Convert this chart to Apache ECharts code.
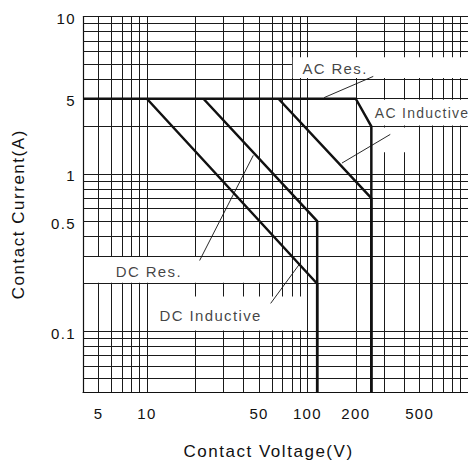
<!DOCTYPE html>
<html>
<head>
<meta charset="utf-8">
<script src="https://cdn.jsdelivr.net/npm/echarts@6/dist/echarts.min.js"></script>
<style>
html,body{margin:0;padding:0;background:#fff;}
#chart{width:468px;height:466px;}
#chart svg text{letter-spacing:0.09em;}
</style>
</head>
<body>
<div id="chart"></div>
<script>
// ---- axis ranges ----
const X_MIN = 4, X_MAX = 1000, Y_MIN = 0.041, Y_MAX = 10;

// ---- grid lines ----
const xGridValues = [5,6,7,8,9,10,20,30,40,50,60,70,80,90,100,200,300,400,500,600,700,800,900];
const yGridValues = [0.05,0.06,0.07,0.08,0.09,0.1,0.2,0.3,0.4,0.5,0.6,0.7,0.8,0.9,1,2,3,4,5,6,7,8,9,10];

// ---- tick labels ----
const xTickValues = [5,10,50,100,200,500];
const xTickLabels = ['5','10','50','100','200','500'];
const yTickValues = [10,3,1,0.5,0.1];
const yTickLabels = ['10','5','1','0.5','0.1'];

// ---- curves (voltage V, current in axis units) ----
const acResVoltage = [4,200,250,250];
const acResCurrent = [3,3,2,Y_MIN];
const acIndVoltage = [66,250,250];
const acIndCurrent = [3,0.7,Y_MIN];
const dcResVoltage = [22.5,115,115];
const dcResCurrent = [3,0.5,Y_MIN];
const dcIndVoltage = [10,115,115];
const dcIndCurrent = [3,0.2,Y_MIN];

// ---- annotations ----
const noteNames = ['AC Res.','AC Inductive','DC Res.','DC Inductive'];
const noteV = [93,263,6.4,12];
const noteA = [4.65,2.43,0.24,0.126];
const leaderFromV = [257,328,21.3,59];
const leaderFromA = [4.16,1.78,0.281,0.15];
const leaderToV = [127,164,46,90];
const leaderToA = [3.05,1.17,1.31,0.27];

// ---- white label backgrounds (axis units) ----
const boxV0 = [81,255,255,4.06,10.2];
const boxV1 = [1000,1000,441,58,98];
const boxA0 = [4.06,2.03,1.37,0.203,0.101];
const boxA1 = [5.5,2.96,1.97,0.296,0.166];

const FONT = '"Liberation Sans", Arial, Helvetica, sans-serif';
const INK = '#111';

const zip = (xs, ys) => xs.map((x, i) => [x, ys[i]]);

function curve(name, xs, ys) {
  return {
    type: 'line', name: name, data: zip(xs, ys), symbol: 'none', z: 3,
    lineStyle: {color: INK, width: 2.5}, silent: true, animation: false
  };
}

const chart = echarts.init(document.getElementById('chart'), null, {renderer: 'svg'});

const series = [
  // grid lines
  {
    type: 'line', data: [], silent: true, z: 1, animation: false,
    markLine: {
      z: 1, zlevel: 0,
      silent: true, symbol: 'none', animation: false,
      lineStyle: {color: '#1a1a1a', width: 1, type: 'solid'},
      label: {show: false},
      emphasis: {disabled: true},
      data: [
        ...xGridValues.map(v => ({xAxis: v})),
        ...yGridValues.map(v => ({yAxis: v}))
      ]
    }
  },
  // white boxes behind annotations
  {
    type: 'custom', z: 2, silent: true, animation: false, clip: false,
    data: boxV0.map((v, i) => [v, boxA0[i], boxV1[i], boxA1[i]]),
    encode: {x: [0, 2], y: [1, 3]},
    renderItem: function (params, api) {
      const p0 = api.coord([api.value(0), api.value(1)]);
      const p1 = api.coord([api.value(2), api.value(3)]);
      return {
        type: 'rect',
        shape: {x: Math.min(p0[0], p1[0]), y: Math.min(p0[1], p1[1]),
                width: Math.abs(p1[0] - p0[0]), height: Math.abs(p1[1] - p0[1])},
        style: {fill: '#ffffff'}
      };
    }
  },
  // x tick labels
  {
    type: 'custom', z: 2, silent: true, animation: false, clip: false,
    data: xTickValues.map(v => [v, Y_MIN]),
    renderItem: function (params, api) {
      const p = api.coord([api.value(0), api.value(1)]);
      return {
        type: 'text', x: p[0], y: p[1] + 14,
        style: {text: xTickLabels[params.dataIndex], fill: INK, fontSize: 15, fontFamily: FONT,
                align: 'center', verticalAlign: 'top'}
      };
    }
  },
  // y tick labels
  {
    type: 'custom', z: 2, silent: true, animation: false, clip: false,
    data: yTickValues.map(v => [X_MIN, v]),
    renderItem: function (params, api) {
      const p = api.coord([api.value(0), api.value(1)]);
      return {
        type: 'text', x: p[0] - 7, y: p[1] + 2,
        style: {text: yTickLabels[params.dataIndex], fill: INK, fontSize: 15, fontFamily: FONT,
                align: 'right', verticalAlign: 'middle'}
      };
    }
  },
  curve('AC Res.', acResVoltage, acResCurrent),
  curve('AC Inductive', acIndVoltage, acIndCurrent),
  curve('DC Res.', dcResVoltage, dcResCurrent),
  curve('DC Inductive', dcIndVoltage, dcIndCurrent),
  // leader lines
  ...noteNames.map((n, i) => ({
    type: 'line', data: [[leaderFromV[i], leaderFromA[i]], [leaderToV[i], leaderToA[i]]],
    symbol: 'none', z: 4, silent: true, animation: false,
    lineStyle: {color: INK, width: 0.9}
  })),
  // annotation text
  {
    type: 'scatter', z: 5, silent: true, animation: false, symbolSize: 0,
    data: noteNames.map((n, i) => ({name: n, value: [noteV[i], noteA[i]]})),
    label: {
      show: true, formatter: '{b}', position: 'right', distance: 0,
      fontSize: 15, color: INK, fontFamily: FONT
    }
  }
];
// narrower label for the one that touches the right edge
series[series.length - 1].data[1].label = {fontSize: 14};

chart.setOption({
  animation: false,
  backgroundColor: '#ffffff',
  textStyle: {fontFamily: FONT, color: INK},
  grid: {left: 83, right: -4.7, top: 16.5, bottom: 74, containLabel: false},
  xAxis: {
    type: 'log', logBase: 10, min: X_MIN, max: X_MAX,
    name: 'Contact Voltage(V)', nameLocation: 'middle', nameGap: 51,
    nameTextStyle: {fontSize: 17, color: INK, fontFamily: FONT, padding: [0, 14, 0, 0]},
    axisLine: {show: true, lineStyle: {color: INK, width: 1.2}},
    axisTick: {show: false}, axisLabel: {show: false},
    splitLine: {show: false}, minorSplitLine: {show: false}
  },
  yAxis: {
    type: 'log', logBase: 10, min: Y_MIN, max: Y_MAX,
    name: 'Contact Current(A)', nameLocation: 'middle', nameGap: 56,
    nameTextStyle: {fontSize: 17, color: INK, fontFamily: FONT, padding: [0, 20, 0, 0]},
    axisLine: {show: true, lineStyle: {color: INK, width: 1.2}},
    axisTick: {show: false}, axisLabel: {show: false},
    splitLine: {show: false}, minorSplitLine: {show: false}
  },
  series: series
});
</script>
</body>
</html>
